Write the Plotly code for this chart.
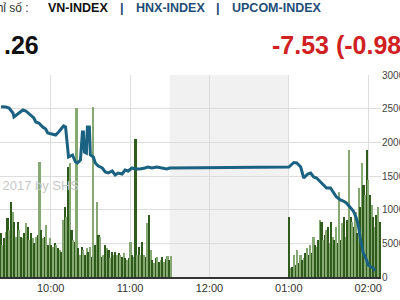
import pandas as pd
import plotly.graph_objects as go

DAY = "2017-05-10 "

# ---- Index line (time, value) ----
line_times = ["09:22:30","09:26:15","09:28:30","09:31:30","09:32:15","09:35:15","09:37:30","09:39:00","09:41:15","09:45:00",
              "09:47:15","09:48:45","09:51:00","09:54:00","09:56:15","09:57:45","10:00:00","10:03:45","10:06:00","10:09:45",
              "10:11:15","10:12:45","10:13:30","10:16:30","10:18:45","10:20:15","10:22:30","10:24:00","10:24:45","10:25:30",
              "10:27:00","10:27:45","10:29:15","10:30:00","10:32:15","10:33:45","10:36:00","10:39:00","10:41:15","10:43:30",
              "10:46:30","10:48:45","10:51:00","10:54:00","10:56:15","10:58:30","11:01:30","11:03:45","11:07:30","11:11:15",
              "11:13:30","11:16:30","11:20:15","11:24:00","11:27:45","11:30:00",
              "13:00:00","13:03:45","13:06:00","13:09:00","13:11:15","13:14:15","13:16:30","13:18:45","13:21:00","13:24:00",
              "13:26:15","13:28:30","13:31:30","13:33:45","13:36:00","13:39:00","13:41:15","13:43:30","13:46:30","13:48:45",
              "13:51:00","13:52:30","13:54:00","13:56:15","13:58:30","14:00:00","14:02:15","14:03:45","14:05:15"]
line_values = [771.83,771.8,771.7,771.2,770.8,771.1,771.3,771.5,771.4,771.0,
               770.7,770.3,770.2,769.8,769.6,769.2,769.1,769.0,769.3,769.9,
               769.8,767.3,766.8,767.0,766.3,766.2,766.5,769.3,769.3,767.3,
               767.2,769.8,769.8,767.0,766.8,766.2,765.9,765.7,765.3,765.2,
               765.4,765.0,765.2,765.1,765.5,765.4,765.7,765.6,765.6,765.7,
               765.8,765.7,765.8,765.7,765.6,765.7,
               765.8,766.25,766.2,765.8,764.7,765.1,765.2,764.8,764.7,764.3,
               764.0,763.7,763.7,763.3,762.8,762.5,762.4,762.2,761.8,761.4,
               760.7,760.0,758.7,757.2,756.6,756.0,755.8,755.7,755.4]

# ---- Volume bars (thousands) ----
vol_am = [653,475,579,668,876,698,1114,965,817,594, 817,698,594,579,653,802,743,549,653,579,
          505,594,624,1708,698,579,594,772,475,579, 475,446,505,475,431,401,371,846,1040,891,
          1634,1693,698,549,520,2510,431,327,446,401, 327,431,371,446,
          297,2525,475,1114,624,594,297,327,475,431, 401,282,371,327,371,327,356,327,297,356,
          282,252,282,520,327,297,2049,327,446,327, 520,327,297,802,921,401,252,208,282,297,
          223,252,297,223,267,312,252,312]
vol_pm = [891,134,149,327,178,401,208,327,252,282, 356,431,327,475,356,594,475,446,549,846,
          817,549,624,698,743,505,817,594,549,743, 505,1262,549,802,891,594,846,1886,891,817,
          743,965,653,1322,1040,1693,1366,1218,1886,1440, 1218,1069,891,743,921,1040,817]
am_start, am_end = "09:22:30", "11:31:00"
pm_start, pm_end = "13:00:30", "14:08:50"

x_ticks = ["10:00", "11:00", "12:00", "13:00", "14:00"]
y_ticks = [0, 500000, 1000000, 1500000, 2000000, 2500000, 3000000]

t_am = pd.date_range(DAY + am_start, DAY + am_end, periods=len(vol_am))
t_pm = pd.date_range(DAY + pm_start, DAY + pm_end, periods=len(vol_pm))
bar_t = list(t_am) + list(t_pm)
bar_v = [v * 1000 for v in vol_am + vol_pm]
bar_c = ["#2f5c1d" if i % 2 == 0 else "#86a873" for i in range(len(bar_v))]

W, H = 400, 300
L, R, T, B = 0, 19, 75, 23
PW, PH = W - L - R, H - T - B
def px(x): return (x - L) / PW
def py(y): return (H - B - y) / PH

fig = go.Figure()
fig.add_trace(go.Scatter(x=[pd.Timestamp(DAY + "09:52:30")], y=[1340000], mode="text",
                         text=["2017 by SHS"], textfont=dict(size=13, color="#c8c8c8", family="Arial Black, Arial"),
                         showlegend=False, hoverinfo="skip"))
fig.add_trace(go.Bar(x=bar_t, y=bar_v, marker=dict(color=bar_c, line=dict(width=0)),
                     width=75000, showlegend=False))
fig.add_trace(go.Scatter(x=[pd.Timestamp(DAY + t) for t in line_times], y=line_values, yaxis="y2",
                         mode="lines", line=dict(color="#1b6282", width=3), showlegend=False))

fig.add_shape(type="rect", xref="x", yref="paper", x0=DAY + "11:30", x1=DAY + "13:00", y0=0, y1=1,
              fillcolor="#f1f1f1", line=dict(width=0), layer="below")

fig.update_layout(
    width=W, height=H, margin=dict(l=L, r=R, t=T, b=B, autoexpand=False),
    plot_bgcolor="white", paper_bgcolor="white",
    font=dict(family="Arial, Liberation Sans", size=11, color="#333"),
    bargap=0,
    xaxis=dict(type="date", range=[DAY + "09:21:42", DAY + "14:09:40"], automargin=False,
               tickvals=[DAY + t for t in x_ticks], tickformat="%I:%M",
               showgrid=True, gridcolor="#dddddd", gridwidth=1,
               showline=True, linecolor="#333", linewidth=2, ticks="", tickfont=dict(size=11, color="#333")),
    yaxis=dict(side="right", range=[0, 3000000], tickvals=y_ticks, ticktext=[str(v) for v in y_ticks],
               automargin=False, showgrid=True, gridcolor="#dddddd", gridwidth=1, zeroline=False, ticks="",
               tickfont=dict(size=10, color="#444")),
    yaxis2=dict(overlaying="y", range=[754.8, 775.0], showgrid=False, showticklabels=False,
                automargin=False, zeroline=False, side="left"),
)

hdr = dict(xref="paper", yref="paper", showarrow=False, yanchor="middle")
fig.add_annotation(text="Chỉ số :", x=px(31), y=py(8), xanchor="right", font=dict(size=12, color="#333"), **hdr)
fig.add_annotation(text="<b>VN-INDEX</b>", x=px(46), y=py(8), xanchor="left", font=dict(size=12.5, color="#111"), **hdr)
fig.add_annotation(text="<b>|</b>", x=px(122), y=py(8), xanchor="center", font=dict(size=13, color="#1f4e79"), **hdr)
fig.add_annotation(text="<b>HNX-INDEX</b>", x=px(134), y=py(8), xanchor="left", font=dict(size=12.5, color="#1f4e79"), **hdr)
fig.add_annotation(text="<b>|</b>", x=px(218), y=py(8), xanchor="center", font=dict(size=13, color="#1f4e79"), **hdr)
fig.add_annotation(text="<b>UPCOM-INDEX</b>", x=px(230), y=py(8), xanchor="left", font=dict(size=12.5, color="#1f4e79"), **hdr)
fig.add_annotation(text="<b>.26</b>", x=px(2), y=py(45), xanchor="left", font=dict(size=25, color="#111"), **hdr)
fig.add_annotation(text="<b>-7.53 (-0.98%)</b>", x=px(270), y=py(45), xanchor="left", font=dict(size=25, color="#d0201f"), **hdr)

fig.write_html("out.html")
